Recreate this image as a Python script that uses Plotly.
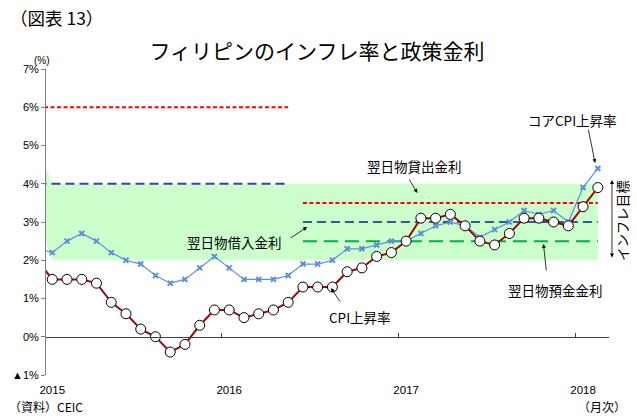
import plotly.graph_objects as go

# ---------------- data ----------------
months = [
    "2014-12",
    "2015-01", "2015-02", "2015-03", "2015-04", "2015-05", "2015-06",
    "2015-07", "2015-08", "2015-09", "2015-10", "2015-11", "2015-12",
    "2016-01", "2016-02", "2016-03", "2016-04", "2016-05", "2016-06",
    "2016-07", "2016-08", "2016-09", "2016-10", "2016-11", "2016-12",
    "2017-01", "2017-02", "2017-03", "2017-04", "2017-05", "2017-06",
    "2017-07", "2017-08", "2017-09", "2017-10", "2017-11", "2017-12",
    "2018-01", "2018-02",
]
cpi = [2.0,
       1.5, 1.5, 1.5, 1.4, 0.9, 0.6, 0.2, 0.0, -0.4, -0.2, 0.3, 0.7,
       0.7, 0.5, 0.6, 0.7, 0.9, 1.3, 1.3, 1.3, 1.7, 1.8, 2.1, 2.2,
       2.5, 3.1, 3.1, 3.2, 2.9, 2.5, 2.4, 2.7, 3.1, 3.1, 3.0, 2.9,
       3.4, 3.9]
core_cpi = [2.3,
            2.2, 2.5, 2.7, 2.5, 2.2, 2.0, 1.9, 1.6, 1.4, 1.5, 1.8, 2.1,
            1.8, 1.5, 1.5, 1.5, 1.6, 1.9, 1.9, 2.0, 2.3, 2.3, 2.4, 2.5,
            2.5, 2.7, 2.9, 3.0, 2.9, 2.6, 2.8, 3.0, 3.3, 3.2, 3.3, 3.0,
            3.9, 4.4]
target_upper = [5.0] + [4.0] * 38
target_lower = [3.0] + [2.0] * 38

corridor_start = "2016-06"
lending_old, lending_new = 6.0, 3.5      # 翌日物貸出金利
borrowing_old, borrowing_new = 4.0, 3.0  # 翌日物借入金利
deposit_new = 2.5                        # 翌日物預金金利

year_labels = ["2015", "2016", "2017", "2018"]
y_ticks = [-1, 0, 1, 2, 3, 4, 5, 6, 7]
y_ticktext = ["▲1%", "0%", "1%", "2%", "3%", "4%", "5%", "6%", "7%"]

# ---------------- derived ----------------
base = months.index("2015-01")
xs = [i - base for i in range(len(months))]
cut = months.index(corridor_start)


def before(v):
    return [v if i < cut else None for i in range(len(months))]


def after(v):
    return [v if i >= cut else None for i in range(len(months))]


year_pos = [months.index(y + "-01") - base for y in year_labels]
year_bounds = [p - 0.5 for p in year_pos[1:]]

W, H = 637, 416
PL, PR, PT, PB = 42, 609, 69, 375


def px_x(x):
    return (x - PL) / (PR - PL)


def px_y(y):
    return (PB - y) / (PB - PT)


JP = "Noto Sans CJK JP"
LAT = "Liberation Sans"

fig = go.Figure()

# inflation target band
fig.add_trace(go.Scatter(x=xs, y=target_lower, mode="lines", line=dict(width=0),
                         hoverinfo="skip", showlegend=False))
fig.add_trace(go.Scatter(x=xs, y=target_upper, mode="lines", line=dict(width=0),
                         fill="tonexty", fillcolor="#ccffcc", showlegend=False))

# policy rates
fig.add_trace(go.Scatter(x=xs, y=before(lending_old), mode="lines",
                         line=dict(color="#ff0000", width=2, dash="4px,2.5px"), showlegend=False))
fig.add_trace(go.Scatter(x=xs, y=after(lending_new), mode="lines",
                         line=dict(color="#ff0000", width=2, dash="4px,2.5px"), showlegend=False))
fig.add_trace(go.Scatter(x=xs, y=before(borrowing_old), mode="lines",
                         line=dict(color="#3b3fa6", width=2.2, dash="9px,5px"), showlegend=False))
fig.add_trace(go.Scatter(x=xs, y=after(borrowing_new), mode="lines",
                         line=dict(color="#2f5b98", width=2.2, dash="9px,5px"), showlegend=False))
fig.add_trace(go.Scatter(x=xs, y=after(deposit_new), mode="lines",
                         line=dict(color="#00b050", width=2, dash="14px,7px"), showlegend=False))

# core CPI
fig.add_trace(go.Scatter(x=xs, y=core_cpi, mode="lines+markers",
                         line=dict(color="#5b8fd8", width=1.2),
                         marker=dict(symbol="x-thin-open", size=5,
                                     line=dict(color="#5b8fd8", width=2)),
                         showlegend=False))
# CPI
fig.add_trace(go.Scatter(x=xs, y=cpi, mode="lines+markers",
                         line=dict(color="#9c0a0a", width=2),
                         marker=dict(symbol="circle", size=10, color="white",
                                     line=dict(color="black", width=1)),
                         showlegend=False))

# dummy trace for the zero-line axis
fig.add_trace(go.Scatter(x=[None], y=[None], xaxis="x2", showlegend=False, hoverinfo="skip"))

xr = [(PL - 48.3) / 14.85, (PR - 48.3) / 14.85]

fig.update_layout(
    width=W, height=H,
    margin=dict(l=PL, r=W - PR, t=PT, b=H - PB),
    paper_bgcolor="white", plot_bgcolor="white",
    font=dict(family=LAT, size=11, color="black"),
    title=dict(text="フィリピンのインフレ率と政策金利", font=dict(family=JP, size=21, color="black"),
               x=317 / W, xref="container", xanchor="center",
               y=1 - 52 / H, yref="container", yanchor="middle"),
    xaxis=dict(range=xr, showgrid=False, zeroline=False, showline=False, ticks="",
               tickvals=year_pos, ticktext=year_labels, ticklabelstandoff=6,
               tickfont=dict(family=LAT, size=11.5, color="black")),
    xaxis2=dict(range=xr, overlaying="x", anchor="free", position=1 / 8,
                showgrid=False, zeroline=False, showline=True, linecolor="#404040", linewidth=1,
                ticks="inside", ticklen=4, tickcolor="#404040", tickvals=year_bounds,
                showticklabels=False),
    yaxis=dict(range=[-1, 7], showgrid=False, zeroline=False, showline=True,
               linecolor="#7f7f7f", linewidth=1, ticks="outside", ticklen=4, tickcolor="#7f7f7f",
               tickvals=y_ticks, ticktext=y_ticktext,
               tickfont=dict(family=LAT, size=11, color="black")),
)

ann = []


def text(x, y, t, size=13.5, xanchor="center", family=JP, angle=0):
    ann.append(dict(x=px_x(x), y=px_y(y), xref="paper", yref="paper", text=t, showarrow=False,
                    xanchor=xanchor, yanchor="middle", textangle=angle,
                    font=dict(family=family, size=size, color="black")))


def arrow(tx, ty, hx, hy, start=False):
    ann.append(dict(x=px_x(hx), y=px_y(hy), xref="paper", yref="paper",
                    ax=tx - hx, ay=ty - hy, axref="pixel", ayref="pixel",
                    text="", showarrow=True, arrowhead=2, arrowsize=1, arrowwidth=0.8,
                    arrowcolor="black", arrowside="end+start" if start else "end",
                    startarrowhead=2, startarrowsize=1))


text(4, 18, "（図表 13）", size=17.5, xanchor="left")
text(38, 60, "(%)", size=10, family=LAT)
text(3, 406, "（資料）CEIC", size=12, xanchor="left")
text(628, 406, "（月次）", size=12, xanchor="right")

text(572, 120, "コアCPI上昇率")
arrow(588, 128, 595, 163)
text(413, 166, "翌日物貸出金利")
arrow(407, 178, 416, 193)
text(232, 242, "翌日物借入金利")
arrow(287, 239, 305, 227)
text(358, 317, "CPI上昇率")
arrow(339, 303, 329, 288)
text(555, 290, "翌日物預金金利")
arrow(546, 272, 543, 244)
text(622, 220, "インフレ目標", angle=-90)
arrow(612, 259, 612, 180, start=True)

fig.update_layout(annotations=ann)
fig.write_html("out.html", config={"displayModeBar": False},
               post_script="document.body.style.margin='0';")
